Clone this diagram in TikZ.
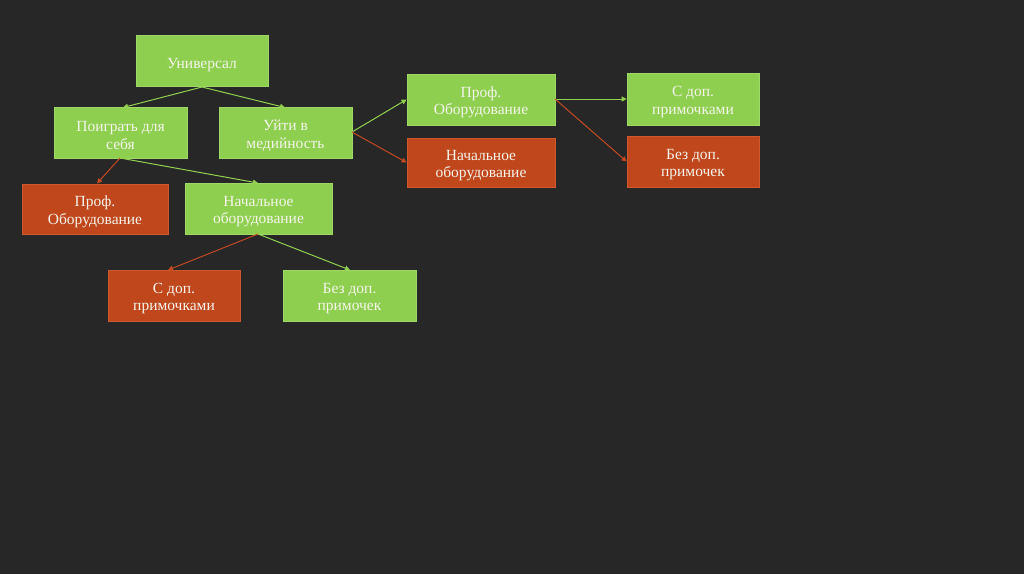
\documentclass[tikz,border=0pt]{standalone}
\usepackage{fontspec}
\setmainfont{Liberation Serif}
\usetikzlibrary{arrows.meta}
\definecolor{bg}{HTML}{272727}
\definecolor{gfill}{HTML}{8FCF4F}
\definecolor{gline}{HTML}{A0D868}
\definecolor{garrc}{HTML}{92D050}
\definecolor{rfill}{HTML}{C0461C}
\definecolor{rline}{HTML}{D0582E}
\definecolor{rarrc}{HTML}{C44A22}
\definecolor{txt}{HTML}{F4F4EC}
\newcommand\mystrut{\rule{0pt}{16.5pt}}
\newcommand\onestrut{\rule{0pt}{18pt}}
\begin{document}
\begin{tikzpicture}[x=1pt,y=-1pt,
  box/.style={minimum width=132pt,minimum height=51pt,inner sep=1pt,align=center,
    font=\fontsize{15.5}{17.5}\selectfont,text=txt,line width=0.8pt},
  gbox/.style={box,fill=gfill,draw=gline},
  rbox/.style={box,fill=rfill,draw=rline},
  garr/.style={draw=garrc,line width=1pt,-{Triangle[length=5pt,width=5pt]}},
  rarr/.style={draw=rarrc,line width=1pt,-{Triangle[length=5pt,width=5pt]}}]
\fill[bg] (0,0) rectangle (1024,574);
\node[gbox] (u) at (202,61) {\onestrut Универсал};
\node[gbox,minimum width=133pt] (p) at (120.5,132.5) {\mystrut Поиграть для\\себя};
\node[gbox,minimum width=133pt] (m) at (285.5,132.5) {\mystrut Уйти в\\медийность};
\node[rbox,minimum width=146pt,minimum height=50pt] (pp) at (95,209) {\mystrut Проф.\\Оборудование};
\node[gbox,minimum width=147pt] (pn) at (258.5,208.5) {\mystrut Начальное\\оборудование};
\node[rbox] (ps) at (174,295.5) {\mystrut С доп.\\примочками};
\node[gbox,minimum width=133pt] (pb) at (349.5,295.5) {\mystrut Без доп.\\примочек};
\node[gbox,minimum width=148pt] (mp) at (481,99.5) {\mystrut Проф.\\Оборудование};
\node[rbox,minimum width=148pt,minimum height=49pt] (mn) at (481,162.5) {\mystrut Начальное\\оборудование};
\node[gbox,minimum height=52pt] (ms) at (693,99) {\mystrut С доп.\\примочками};
\node[rbox] (mb) at (693,161.5) {\mystrut Без доп.\\примочек};
\coordinate (ub) at (202,87);
\coordinate (pbot) at (120,158);
\coordinate (nbot) at (258,234);
\coordinate (mr) at (352,132);
\coordinate (mpr) at (555,99);
\draw[garr] (ub) -- (123,107.5);
\draw[garr] (ub) -- (285,107.5);
\draw[rarr] (pbot) -- (97,183.5);
\draw[garr] (pbot) -- (258,183);
\draw[rarr] (nbot) -- (168,270);
\draw[garr] (nbot) -- (350,270);
\draw[garr] (mr) -- (mp.west);
\draw[rarr] (mr) -- (mn.west);
\draw[garr] (mpr) -- (ms.west);
\draw[rarr] (mpr) -- (mb.west);
\end{tikzpicture}
\end{document}
